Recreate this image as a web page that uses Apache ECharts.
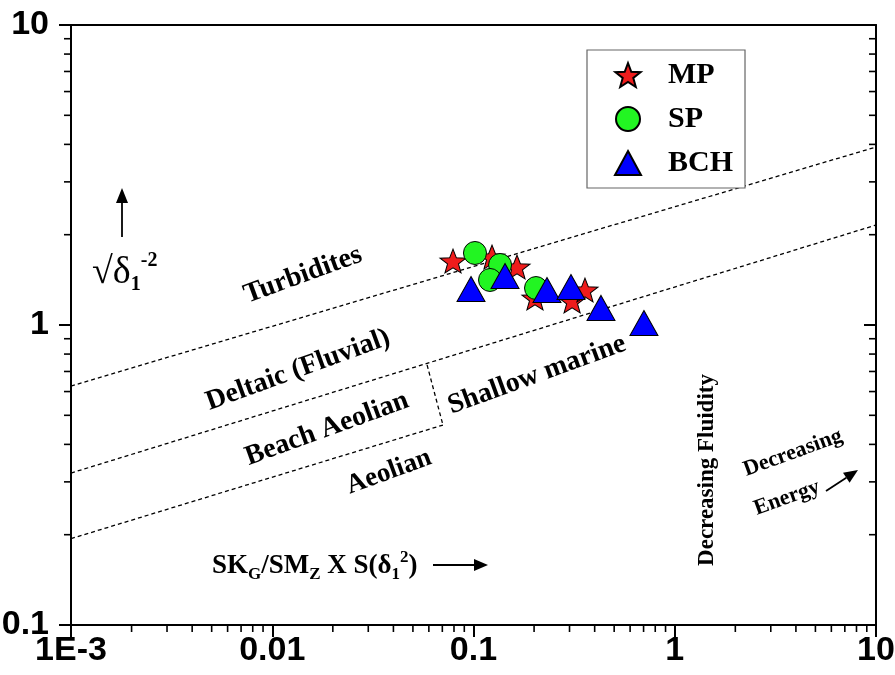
<!DOCTYPE html>
<html>
<head>
<meta charset="utf-8">
<script src="https://cdn.jsdelivr.net/npm/echarts@6/dist/echarts.min.js"></script>
<style>
  html, body { margin: 0; padding: 0; background: #fff; }
  #chart { width: 895px; height: 675px; }
</style>
</head>
<body>
<div id="chart"></div>
<script>
// Sample groups: [SKg/SMz x S(δ1²), √δ1⁻²]
const mpPoints  = [[0.0791, 1.634], [0.1236, 1.686], [0.1645, 1.561], [0.202, 1.230], [0.309, 1.202], [0.358, 1.308]];
const spPoints  = [[0.1017, 1.738], [0.1355, 1.585], [0.1208, 1.413], [0.2045, 1.328]];
const bchPoints = [[0.0972, 1.318], [0.1434, 1.457], [0.2318, 1.308], [0.305, 1.339], [0.430, 1.140], [0.703, 1.015]];

// Depositional-environment boundaries (dashed)
const turbiditeDeltaic = [[0.001, 0.626], [10, 3.92]];
const deltaicMarine    = [[0.001, 0.321], [10, 2.154]];
const beachAeolian     = [[0.001, 0.194], [0.0705, 0.464]];
const beachMarine      = [[0.0588, 0.736], [0.0705, 0.464]];

// Axis ticks
const xTickValues = [0.001, 0.01, 0.1, 1, 10];
const xTickLabels = ['1E-3', '0.01', '0.1', '1', '10'];
const yTickValues = [0.1, 1, 10];
const yTickLabels = ['0.1', '1', '10'];
const xMinorValues = [];
const yMinorValues = [];
[0.001, 0.01, 0.1, 1].forEach(function (d) { for (let k = 2; k <= 9; k++) xMinorValues.push(d * k); });
[0.1, 1].forEach(function (d) { for (let k = 2; k <= 9; k++) yMinorValues.push(d * k); });

const X_MIN = 0.001, X_MAX = 10, Y_MIN = 0.1, Y_MAX = 10;

function tickLabel(values, labels) {
  return function (v) {
    for (let i = 0; i < values.length; i++) {
      if (Math.abs(Math.log10(v) - Math.log10(values[i])) < 1e-6) return labels[i];
    }
    return '';
  };
}

const starPath = 'path://M50,0 L62.34,33.01 L97.55,34.55 L69.97,56.49 L79.39,90.45 L50,71 L20.61,90.45 L30.03,56.49 L2.45,34.55 L37.66,33.01 Z';

const serif = '"Liberation Serif", "Times New Roman", serif';
const sans = '"Liberation Sans", Arial, sans-serif';

function dashed(data) {
  return {
    type: 'line', data: data, symbol: 'none', silent: true, z: 1,
    lineStyle: { color: '#000', width: 1.3, type: [4, 3] },
    legendHoverLink: false
  };
}

function arrow(x1, y1, x2, y2, head, half) {
  const a = Math.atan2(y2 - y1, x2 - x1);
  const bx = x2 - head * Math.cos(a), by = y2 - head * Math.sin(a);
  const nx = -Math.sin(a) * half, ny = Math.cos(a) * half;
  return [
    { type: 'line', shape: { x1: x1, y1: y1, x2: bx, y2: by }, style: { stroke: '#000', lineWidth: 1.8 } },
    { type: 'polygon', shape: { points: [[x2, y2], [bx + nx, by + ny], [bx - nx, by - ny]] }, style: { fill: '#000' } }
  ];
}

function label(text, x, y, deg, size) {
  return {
    type: 'text', x: x, y: y, rotation: deg * Math.PI / 180,
    style: { text: text, font: 'bold ' + size + 'px ' + serif, fill: '#000', align: 'center', verticalAlign: 'middle' }
  };
}

const chart = echarts.init(document.getElementById('chart'));

const axisLineStyle = { color: '#000', width: 2 };

chart.setOption({
  animation: false,
  grid: { left: 71, right: 19, top: 25, bottom: 50, containLabel: false, outerBoundsMode: 'none' },
  xAxis: [
    {
      type: 'log', min: X_MIN, max: X_MAX, position: 'bottom',
      axisLine: { show: true, lineStyle: axisLineStyle },
      axisTick: { show: true, inside: false, length: 12, lineStyle: { color: '#000', width: 2 } },
      axisLabel: { show: true, margin: 9, color: '#000', fontFamily: sans, fontWeight: 'bold', fontSize: 34,
                   formatter: tickLabel(xTickValues, xTickLabels) },
      splitLine: { show: false }
    },
    {
      type: 'log', min: X_MIN, max: X_MAX, position: 'top',
      axisLine: { show: true, lineStyle: axisLineStyle },
      axisTick: { show: false }, axisLabel: { show: false }, splitLine: { show: false }
    }
  ],
  yAxis: [
    {
      type: 'log', min: Y_MIN, max: Y_MAX, position: 'left',
      axisLine: { show: true, lineStyle: axisLineStyle },
      axisTick: { show: true, inside: false, length: 12, lineStyle: { color: '#000', width: 2 } },
      axisLabel: { show: true, margin: 22, color: '#000', fontFamily: sans, fontWeight: 'bold', fontSize: 34,
                   formatter: tickLabel(yTickValues, yTickLabels) },
      splitLine: { show: false }
    },
    {
      type: 'log', min: Y_MIN, max: Y_MAX, position: 'right',
      axisLine: { show: true, lineStyle: axisLineStyle },
      axisTick: { show: true, inside: true, length: 12, lineStyle: { color: '#000', width: 2 } },
      axisLabel: { show: false }, splitLine: { show: false }
    }
  ],
  legend: {
    orient: 'vertical', left: 587, top: 50,
    padding: [10, 12, 10, 27], itemGap: 14, itemWidth: 26, itemHeight: 24,
    borderColor: '#666', borderWidth: 1.2, backgroundColor: '#fff',
    textStyle: { fontFamily: serif, fontWeight: 'bold', fontSize: 30, color: '#000', padding: [0, 0, 0, 22] },
    data: ['MP', 'SP', 'BCH'],
    selectedMode: false
  },
  series: [
    dashed(turbiditeDeltaic),
    dashed(deltaicMarine),
    dashed(beachAeolian),
    dashed(beachMarine),
    {
      name: 'x-minor', type: 'custom', data: xMinorValues.map(function (v) { return [v, Y_MIN]; }),
      clip: false, silent: true, z: 5,
      renderItem: function (params, api) {
        const p = api.coord([api.value(0), api.value(1)]);
        return { type: 'line', shape: { x1: p[0], y1: p[1], x2: p[0], y2: p[1] + 7 }, style: { stroke: '#000', lineWidth: 1.6 } };
      }
    },
    {
      name: 'y-minor', type: 'custom', data: yMinorValues.map(function (v) { return [X_MIN, v]; }),
      clip: false, silent: true, z: 5,
      renderItem: function (params, api) {
        const p = api.coord([X_MIN, api.value(1)]);
        const q = api.coord([X_MAX, api.value(1)]);
        return {
          type: 'group', children: [
            { type: 'line', shape: { x1: p[0] - 7, y1: p[1], x2: p[0], y2: p[1] }, style: { stroke: '#000', lineWidth: 1.6 } },
            { type: 'line', shape: { x1: q[0] - 7, y1: q[1], x2: q[0], y2: q[1] }, style: { stroke: '#000', lineWidth: 1.6 } }
          ]
        };
      }
    },
    {
      name: 'MP', type: 'scatter', data: mpPoints, z: 3,
      symbol: starPath, symbolSize: [26, 25], symbolKeepAspect: true,
      itemStyle: { color: '#ee1c1c', borderColor: '#000', borderWidth: 1, opacity: 1 }
    },
    {
      name: 'SP', type: 'scatter', data: spPoints, z: 3,
      symbol: 'circle', symbolSize: 23,
      itemStyle: { color: '#22f522', borderColor: '#000', borderWidth: 1, opacity: 1 }
    },
    {
      name: 'BCH', type: 'scatter', data: bchPoints, z: 3,
      symbol: 'triangle', symbolSize: [28, 25],
      itemStyle: { color: '#0000ff', borderColor: '#000', borderWidth: 1, opacity: 1 }
    }
  ],
  graphic: [
    label('Turbidites', 303, 275, 20, 28),
    label('Deltaic (Fluvial)', 298, 370, 20, 28),
    label('Beach Aeolian', 327, 429, 20, 28),
    label('Aeolian', 389, 472, 20, 27),
    label('Shallow marine', 537, 375, 20, 28),
    label('Decreasing Fluidity', 707, 470, 90, 23),
    label('Decreasing', 793, 453, 20, 22),
    label('Energy', 787, 498, 20, 22),
    {
      type: 'text', x: 92, y: 273,
      style: {
        text: '{r|√δ}{sub|1}{sup|-2}',
        verticalAlign: 'middle', align: 'left',
        rich: {
          r: { font: '38px ' + serif, fill: '#000', lineHeight: 44, verticalAlign: 'middle' },
          sub: { font: 'bold 20px ' + serif, fill: '#000', lineHeight: 20, verticalAlign: 'bottom' },
          sup: { font: 'bold 20px ' + serif, fill: '#000', lineHeight: 20, verticalAlign: 'top' }
        }
      }
    },
    {
      type: 'text', x: 212, y: 566,
      style: {
        text: '{m|SK}{s|G}{m|/SM}{s|Z}{m| X S(δ}{s|1}{p|2}{m|)}',
        verticalAlign: 'middle', align: 'left',
        rich: {
          m: { font: 'bold 27px ' + serif, fill: '#000', lineHeight: 34, verticalAlign: 'middle' },
          s: { font: 'bold 17px ' + serif, fill: '#000', lineHeight: 16, verticalAlign: 'bottom' },
          p: { font: 'bold 17px ' + serif, fill: '#000', lineHeight: 16, verticalAlign: 'top' }
        }
      }
    }
  ].concat(arrow(433, 565, 488, 565, 14, 6))
   .concat(arrow(122, 237, 122, 188, 15, 6))
   .concat(arrow(826, 491, 858, 470, 14, 6))
});
</script>
</body>
</html>
